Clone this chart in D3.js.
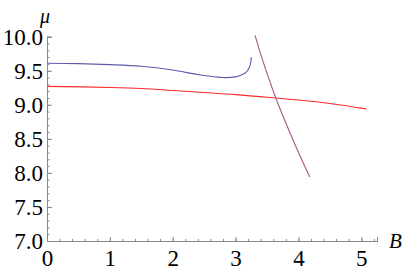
<!DOCTYPE html>
<html>
<head>
<meta charset="utf-8">
<script src="https://cdn.jsdelivr.net/npm/d3@7"></script>
<style>
  body { margin: 0; background: #fff; }
  svg text { font-family: "Liberation Serif", serif; }
</style>
</head>
<body>
<div id="viz"></div>
<script>
var width = 405;
var height = 273;

// curves (B, mu)
var blueB  = [0, 0.5, 1.0, 1.5, 2.0, 2.4, 2.8, 3.0, 3.1, 3.17, 3.22, 3.24, 3.25];
var blueMu = [9.61, 9.605, 9.59, 9.565, 9.51, 9.445, 9.40, 9.41, 9.44, 9.48, 9.55, 9.62, 9.70];

var redB  = [0, 1.0, 1.5, 2.0, 2.5, 3.0, 3.5, 4.0, 4.5, 5.08];
var redMu = [9.27, 9.255, 9.24, 9.21, 9.18, 9.15, 9.11, 9.07, 9.02, 8.94];

var purpleB  = [3.31, 3.45, 3.64, 3.86, 4.05, 4.18];
var purpleMu = [10.02, 9.60, 9.10, 8.60, 8.20, 7.94];

var xTicks = [0, 1, 2, 3, 4, 5];
var yTicks = [7.0, 7.5, 8.0, 8.5, 9.0, 9.5, 10.0];

var x = d3.scaleLinear().domain([0, 5.25]).range([47, 377]);
var y = d3.scaleLinear().domain([7, 10]).range([241, 36.7]);

var svg = d3.select("#viz").append("svg")
  .attr("width", width)
  .attr("height", height)
  .attr("font-family", "Liberation Serif");

var axisColor = "#888";

// x axis: minor then major ticks
svg.append("g").attr("transform", "translate(0,241)")
  .call(d3.axisBottom(x).tickValues(d3.range(0, 5.21, 0.2)).tickSize(-2).tickFormat(""));
var gx = svg.append("g").attr("transform", "translate(0,241)")
  .call(d3.axisBottom(x).tickValues(xTicks).tickSize(-4).tickPadding(9).tickFormat(d3.format("d")));

// y axis
svg.append("g").attr("transform", "translate(47,0)")
  .call(d3.axisLeft(y).tickValues(d3.range(7, 10.01, 0.1)).tickSize(-2.5).tickFormat(""));
var gy = svg.append("g").attr("transform", "translate(47,0)")
  .call(d3.axisLeft(y).tickValues(yTicks).tickSize(-5).tickPadding(4).tickFormat(d3.format(".1f")));

svg.selectAll("g").attr("font-family", "Liberation Serif").attr("font-size", 23);
svg.selectAll(".domain").attr("stroke", axisColor);
svg.selectAll(".tick line").attr("stroke", axisColor);
svg.selectAll(".tick text").attr("fill", "#000");
gx.selectAll(".tick text").attr("dy", "0.68em");
gy.selectAll(".tick text").attr("dy", "0.33em");

// axis labels
svg.append("text")
  .attr("x", 40).attr("y", 23)
  .attr("font-size", 20).attr("font-style", "italic")
  .text("μ");
svg.append("text")
  .attr("x", 389).attr("y", 248)
  .attr("font-size", 21).attr("font-style", "italic")
  .text("B");

var line = d3.line()
  .x(function(d) { return x(d[0]); })
  .y(function(d) { return y(d[1]); })
  .curve(d3.curveCatmullRom);

function addCurve(bs, mus, color) {
  var pts = bs.map(function(b, i) { return [b, mus[i]]; });
  svg.append("path")
    .datum(pts)
    .attr("d", line)
    .attr("fill", "none")
    .attr("stroke", color)
    .attr("stroke-width", 1.1);
}

addCurve(blueB, blueMu, "#5c5cab");
addCurve(redB, redMu, "#ff2a2a");
addCurve(purpleB, purpleMu, "#a8578a");
</script>
</body>
</html>
